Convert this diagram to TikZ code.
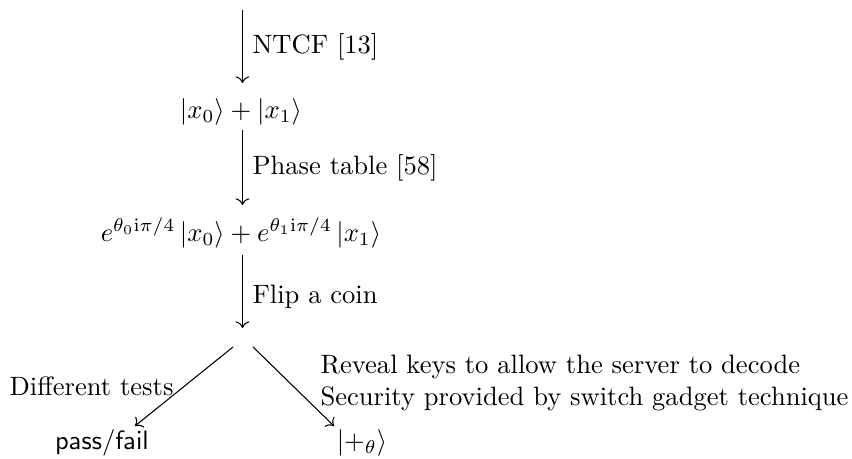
\documentclass[tikz,border=0pt]{standalone}
\usepackage{amsmath}
\usetikzlibrary{cd}
\begin{document}
\begin{tikzpicture}[x=0.3764pt,y=-0.3764pt,
  arr/.style={-{cm to},line width=0.4pt},
  lbl/.style={inner sep=0pt,anchor=west},
  st/.style={inner sep=0pt}]
\useasboundingbox (0,0) rectangle (852,459);
\coordinate (top) at (242.5,10);
\node[st] (n1) at (241,112) {$|x_0\rangle + |x_1\rangle$};
\node[st] (n2) at (241,233) {$e^{\theta_0 \mathrm{i}\pi/4}\,|x_0\rangle + e^{\theta_1 \mathrm{i}\pi/4}\,|x_1\rangle$};
\coordinate (a3) at (242.5,255);
\node[st] (pf) at (102,443) {$\mathsf{pass}/\mathsf{fail}$};
\node[st] (pt) at (362,443) {$|{+_\theta}\rangle$};
\coordinate (ls) at (233,347);
\coordinate (rs) at (253,347);
\coordinate (le) at (135,426);
\coordinate (re) at (334,426);
\draw[arr] (top) -- (242.5,83);
\draw[arr] (242.5,130) -- (242.5,205);
\draw[arr] (a3) -- (242.5,328);
\draw[arr] (ls) -- (le);
\draw[arr] (rs) -- (re);
\node[lbl] (l1) at (252,47) {NTCF [13]};
\node[lbl] (l2) at (252,168) {Phase table [58]};
\node[lbl] (l3) at (252,297) {Flip a coin};
\node[inner sep=0pt,anchor=east] (l4) at (174,386) {Different tests};
\node[lbl,align=left] (l5) at (320,383) {Reveal keys to allow the server to decode\\Security provided by switch gadget technique};
\end{tikzpicture}
\end{document}
